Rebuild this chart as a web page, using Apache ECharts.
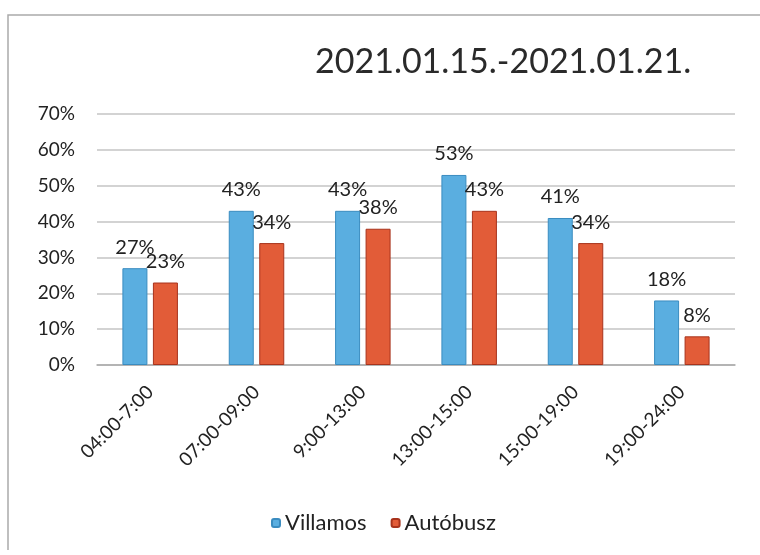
<!DOCTYPE html>
<html>
<head>
<meta charset="utf-8">
<script src="https://cdn.jsdelivr.net/npm/echarts@6/dist/echarts.min.js"></script>
<style>
  html, body { margin: 0; padding: 0; background: #fff; }
  #main { width: 760px; height: 555px; }
</style>
</head>
<body>
<div id="main"></div>
<script>
  // idősávok
  var categories = ['04:00-7:00', '07:00-09:00', '9:00-13:00', '13:00-15:00', '15:00-19:00', '19:00-24:00'];
  var villamos = [27, 43, 43, 53, 41, 18];
  var autobusz = [23, 34, 38, 43, 34, 8];
  var titleText = '2021.01.15.-2021.01.21.';

  var font = 'Lato, "Open Sans", sans-serif';

  var option = {
    backgroundColor: '#fff',
    animation: false,
    title: {
      text: titleText,
      left: 310,
      top: 40,
      textStyle: { fontFamily: font, fontSize: 34, fontWeight: 'normal', color: '#2a2a2a' }
    },
    graphic: [{
      type: 'polyline',
      shape: { points: [[8, 550], [8, 15], [760, 15]] },
      style: { stroke: '#aaa', lineWidth: 1.5, fill: null }
    }],
    legend: {
      top: 507,
      left: 266,
      itemWidth: 8,
      itemHeight: 8,
      itemGap: 24,
      textStyle: { fontFamily: font, fontSize: 22, color: '#222' },
      data: ['Villamos', 'Autóbusz']
    },
    grid: { left: 97, right: 25, top: 114, bottom: 190 },
    xAxis: {
      type: 'category',
      data: categories,
      axisTick: { show: false },
      axisLine: { lineStyle: { color: '#aaa', width: 1.5 } },
      axisLabel: {
        rotate: 45,
        interval: 0,
        margin: 24,
        fontFamily: font,
        fontSize: 19,
        color: '#222'
      }
    },
    yAxis: {
      type: 'value',
      min: 0,
      max: 70,
      interval: 10,
      axisLine: { show: false },
      axisTick: { show: false },
      splitLine: { lineStyle: { color: '#c4c4c4', width: 1.5 } },
      axisLabel: {
        formatter: '{value}%',
        margin: 22,
        fontFamily: font,
        fontSize: 19,
        color: '#222'
      }
    },
    series: [{
      name: 'Villamos',
      type: 'bar',
      data: villamos,
      barWidth: 25,
      barGap: '22%',
      itemStyle: { color: '#5aaee0', borderColor: '#3a8cc0', borderWidth: 1 },
      label: {
        show: true,
        position: 'top',
        distance: 11,
        formatter: '{c}%',
        fontFamily: font,
        fontSize: 20,
        color: '#222'
      }
    }, {
      name: 'Autóbusz',
      type: 'bar',
      data: autobusz,
      barWidth: 25,
      itemStyle: { color: '#e25c38', borderColor: '#a8331c', borderWidth: 1 },
      label: {
        show: true,
        position: 'top',
        distance: 11,
        formatter: '{c}%',
        fontFamily: font,
        fontSize: 20,
        color: '#222'
      }
    }]
  };

  echarts.init(document.getElementById('main')).setOption(option);
</script>
</body>
</html>
